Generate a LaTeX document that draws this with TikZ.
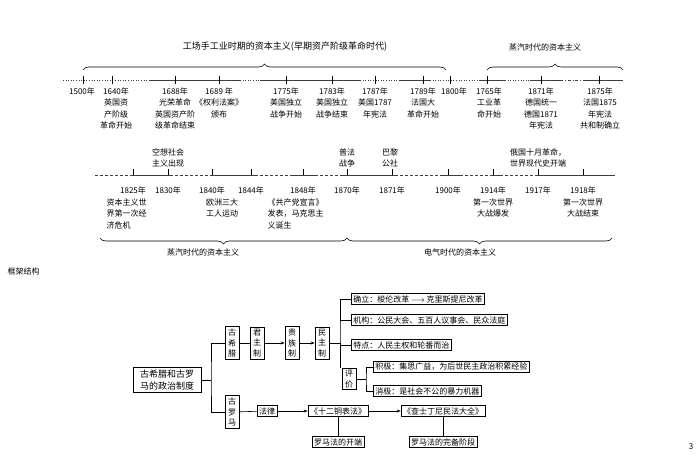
\documentclass[tikz,border=0pt]{standalone}
\usepackage{fontspec}
\setmainfont{Noto Sans CJK SC}
\usetikzlibrary{decorations.pathreplacing,arrows.meta}
\begin{document}
\begin{tikzpicture}[x=1pt,y=-1pt,
  lbl/.style={font=\fontsize{8}{11.5}\selectfont,align=center,inner sep=0.5pt},
  lbll/.style={lbl,align=left},
  tl/.style={line width=0.6pt,draw=black!75},
  dl/.style={tl,dash pattern=on 3pt off 2pt},
  tick/.style={line width=0.6pt},
  br/.style={decorate,decoration={brace,amplitude=6pt},line width=0.6pt},
  bx/.style={draw,line width=0.7pt,font=\fontsize{8}{10.5}\selectfont,inner sep=2pt,align=center},
  vb/.style={bx,text width=9pt,inner xsep=2.5pt},
  ar/.style={-{Stealth[length=4pt]},line width=0.6pt},
  ln/.style={line width=0.6pt}]
\useasboundingbox (0,0) rectangle (700,470);
% ---------- top timeline
\draw[tl,dotted] (63,80) -- (150,80);
\draw[tl] (150,80) -- (240,80);
\draw[tl,dotted] (240,80) -- (260,80);
\draw[tl] (260,80) -- (360,80);
\draw[tl,dotted] (360,80) -- (400,80);
\draw[tl] (400,80) -- (430,80);
\draw[tl,dotted] (430,80) -- (480,80);
\draw[tl] (480,80) -- (505,80);
\draw[tl,dotted] (505,80) -- (530,80);
\draw[tl] (530,80) -- (560,80);
\draw[tl,dash dot] (560,80) -- (585,80);
\draw[tl] (585,80) -- (623,80);
\foreach \x in {83,112,175,219,286,332,375,423,450,487,541,599}
  \draw[tick] (\x,76) -- (\x,84);
\node[lbl,anchor=north] (t1500) at (82,87) {1500年};
\node[lbl,anchor=north] (t1640) at (116,87) {1640年\\英国资\\产阶级\\革命开始};
\node[lbl,anchor=north] (t1688) at (175,87) {1688年\\光荣革命\\英国资产阶\\级革命结束};
\node[lbl,anchor=north] (t1689) at (219,87) {1689 年\\《权利法案》\\颁布};
\node[lbl,anchor=north] (t1775) at (286,87) {1775年\\美国独立\\战争开始};
\node[lbl,anchor=north] (t1783) at (332,87) {1783年\\美国独立\\战争结束};
\node[lbl,anchor=north] (t1787) at (375,87) {1787年\\美国1787\\年宪法};
\node[lbl,anchor=north] (t1789) at (423,87) {1789年\\法国大\\革命开始};
\node[lbl,anchor=north] (t1800) at (454,87) {1800年};
\node[lbl,anchor=north] (t1765) at (489,87) {1765年\\工业革\\命开始};
\node[lbl,anchor=north] (t1871a) at (541,87) {1871年\\德国统一\\德国1871\\年宪法};
\node[lbl,anchor=north] (t1875) at (600,87) {1875年\\法国1875\\年宪法\\共和制确立};
\draw[br] (83,70) -- (446,70);
\draw[br] (487,70) -- (623,70);
\node[lbl,font=\fontsize{9}{11}\selectfont] (ttl1) at (285,47) {工场手工业时期的资本主义(早期资产阶级革命时代)};
\node[lbl] (ttl2) at (545,47) {蒸汽时代的资本主义};
% ---------- bottom timeline
\draw[dl] (95,175) -- (130,175);
\draw[tl] (130,175) -- (170,175);
\draw[dl] (170,175) -- (210,175);
\draw[tl] (210,175) -- (255,175);
\draw[dl] (255,175) -- (290,175);
\draw[tl] (290,175) -- (315,175);
\draw[dl] (315,175) -- (340,175);
\draw[tl] (340,175) -- (395,175);
\draw[dl] (395,175) -- (440,175);
\draw[tl] (440,175) -- (460,175);
\draw[dl] (460,175) -- (490,175);
\draw[tl] (490,175) -- (500,175);
\draw[dl] (500,175) -- (535,175);
\draw[tl] (535,175) -- (615,175);
\foreach \x in {133,168,212,251,303,347,392,448,493,538,583}
  \draw[tick] (\x,169) -- (\x,175);
\foreach \x/\y in {133/1825,168/1830,212/1840,251/1844,303/1848,347/1870,392/1871,448/1900,493/1914,538/1917,583/1918}
  \node[lbl] (y\y) at (\x,190) {{\y}年};
\node[lbl,anchor=south] (kx) at (168,168) {空想社会\\主义出现};
\node[lbl,anchor=south] (pf) at (347,168) {普法\\战争};
\node[lbl,anchor=south] (bl) at (390,168) {巴黎\\公社};
\node[lbl,anchor=south] (eg) at (538,168) {俄国十月革命，\\世界现代史开端};
\node[lbll,anchor=north west] (jj) at (106,198) {资本主义世\\界第一次经\\济危机};
\node[lbl,anchor=north] (oz) at (222,198) {欧洲三大\\工人运动};
\node[lbll,anchor=north west] (gc) at (267,198) {《共产党宣言》\\发表，马克思主\\义诞生};
\node[lbl,anchor=north] (w1) at (493,198) {第一次世界\\大战爆发};
\node[lbl,anchor=north] (w2) at (583,198) {第一次世界\\大战结束};
\draw[br] (347,238) -- (100,238);
\draw[br] (612,238) -- (347,238);
\node[lbl] (zq) at (203,252) {蒸汽时代的资本主义};
\node[lbl] (dq) at (460,252) {电气时代的资本主义};
% ---------- framework
\node[lbl,anchor=west] (kj) at (7,271) {框架结构};
\node[lbl] (pg) at (691,447) {3};
\node[bx,font=\fontsize{9}{12}\selectfont,text width=64pt] (root) at (167,380) {古希腊和古罗\\马的政治制度};
\node[vb] (gxl) at (232,343) {古\\希\\腊};
\node[vb] (jz) at (257,343) {君\\主\\制};
\node[vb] (gz) at (292,343) {贵\\族\\制};
\node[vb] (mz) at (322,343) {民\\主\\制};
\node[vb] (glm) at (232,412) {古\\罗\\马};
\draw[ln] (root.east) -- (211,380) coordinate (tr);
\draw[ln] (gxl.west) -| (tr) |- (glm.west);
\draw[ln] (gxl) -- (jz);
\draw[ar] (jz) -- (gz);
\draw[ar] (gz) -- (mz);
\node[bx,anchor=west] (qd) at (351,299) {确立：梭伦改革 $\longrightarrow$ 克里斯提尼改革};
\node[bx,anchor=west] (jg) at (351,320) {机构：公民大会、五百人议事会、民众法庭};
\node[bx,anchor=west] (td) at (351,345) {特点：人民主权和轮番而治};
\node[vb] (pj) at (349,379) {评\\价};
\node[bx,anchor=west] (jji) at (373,367) {积极：集思广益，为后世民主政治积累经验};
\node[bx,anchor=west] (xj) at (373,391) {消极：是社会不公的暴力机器};
\draw[ln] (mz.east) -- (340,343) coordinate (bx);
\draw[ln] (qd.west) -| (bx) |- (td.west);
\draw[ln] (jg.west) -- (jg.west -| bx);
\draw[ln] (bx) -- (bx |- pj.north);
\draw[ln] (pj.east) -- (366,379) coordinate (pb);
\draw[ln] (jji.west) -| (pb) |- (xj.west);
\node[bx] (fl) at (267,411) {法律};
\node[bx] (sr) at (338,411) {《十二铜表法》};
\node[bx] (cs) at (443,411) {《查士丁尼民法大全》};
\node[bx] (kd) at (338,442) {罗马法的开端};
\node[bx] (wb) at (443,442) {罗马法的完备阶段};
\draw[ln] (glm) -- (fl);
\draw[ar] (fl) -- (sr);
\draw[ar] (sr) -- (cs);
\draw[ln] (sr) -- (kd);
\draw[ln] (cs) -- (wb);
\end{tikzpicture}
\end{document}
